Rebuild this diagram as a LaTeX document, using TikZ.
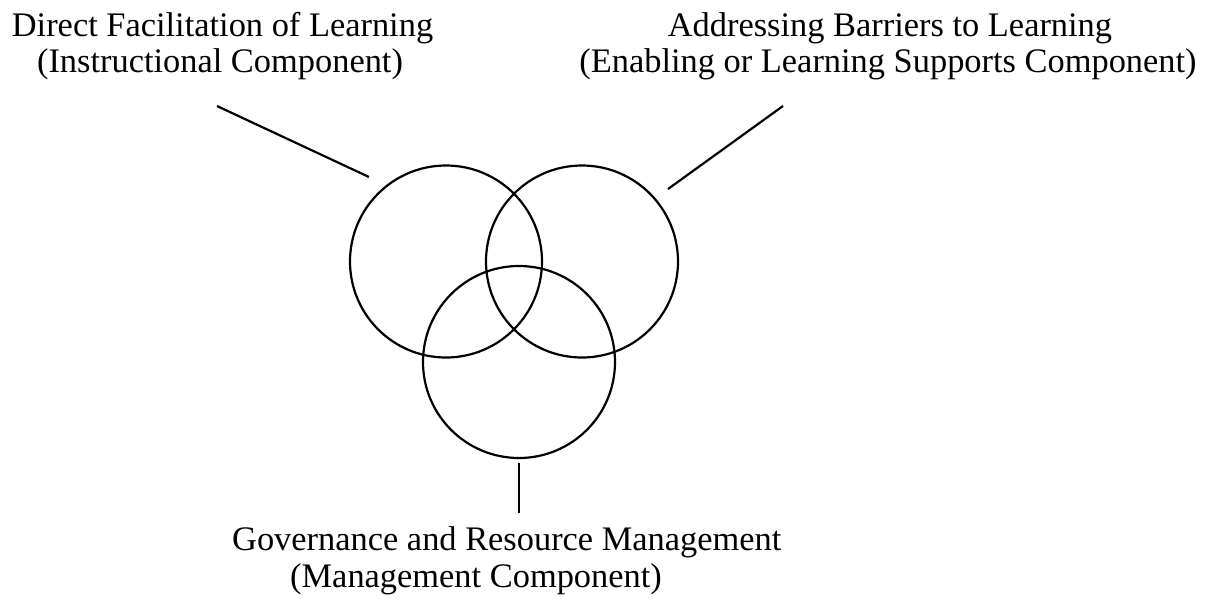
\documentclass[tikz,border=0pt]{standalone}
\usepackage{fontspec}
\setmainfont{Liberation Serif}
\begin{document}
\begin{tikzpicture}[x=1pt,y=-1pt,
  lbl/.style={inner sep=0pt, anchor=base, font=\fontsize{34.4}{37}\selectfont},
  ring/.style={draw, line width=2.2pt, circle, minimum size=192pt, inner sep=0pt},
  conn/.style={line width=2.2pt}]
\useasboundingbox (0,0) rectangle (1208,598);
\node[ring] (c1) at (446,261.5) {};
\node[ring] (c2) at (582,261.5) {};
\node[ring] (c3) at (519,362) {};
\node[lbl] (t1a) at (222.5,36) {Direct Facilitation of Learning};
\node[lbl] (t1b) at (220,72) {(Instructional Component)};
\node[lbl] (t2a) at (890,36) {Addressing Barriers to Learning};
\node[lbl] (t2b) at (888,72) {(Enabling or Learning Supports Component)};
\node[lbl, anchor=base west] (t3a) at (232,550) {Governance and Resource Management};
\node[lbl, anchor=base west] (t3b) at (290,587) {(Management Component)};
\coordinate (p1) at (217,106);
\coordinate (q1) at (369,177);
\coordinate (p2) at (783,106);
\coordinate (q2) at (668,189);
\coordinate (p3) at (519,463);
\coordinate (q3) at (519,513);
\draw[conn] (p1) -- (q1);
\draw[conn] (p2) -- (q2);
\draw[conn] (p3) -- (q3);
\end{tikzpicture}
\end{document}
